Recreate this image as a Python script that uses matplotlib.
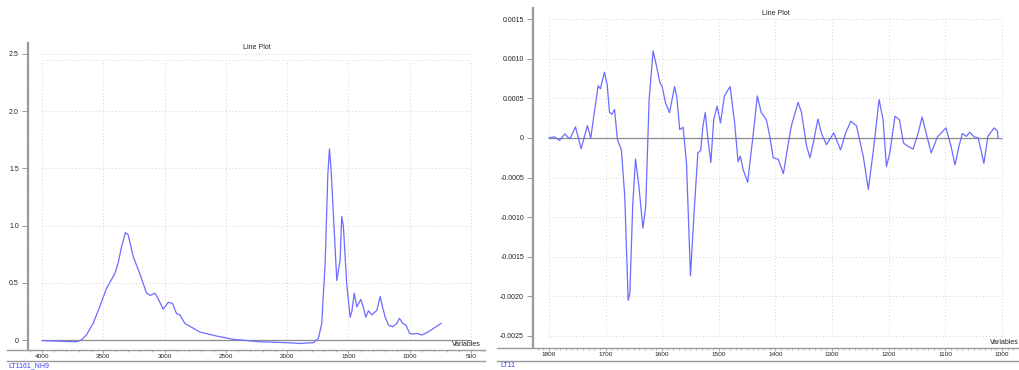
import matplotlib
matplotlib.use('Agg')
import matplotlib.pyplot as plt
from matplotlib.lines import Line2D
from matplotlib.ticker import MultipleLocator, FixedLocator, FixedFormatter

plt.rcParams['font.family'] = ['Liberation Sans', 'DejaVu Sans']

# raw absorbance spectrum
abs_wavenumber = [4000, 3720, 3679, 3638, 3583, 3529, 3474, 3406, 3379, 3352,
                  3319, 3297, 3256, 3202, 3147, 3115, 3079, 3052, 3011, 2970,
                  2935, 2902, 2875, 2834, 2712, 2576, 2439, 2221, 2004, 1895,
                  1786, 1745, 1718, 1690, 1668, 1655, 1641, 1622, 1595, 1568,
                  1555, 1541, 1514, 1486, 1472, 1453, 1432, 1399, 1377, 1358,
                  1337, 1309, 1268, 1241, 1222, 1200, 1173, 1138, 1106, 1084,
                  1056, 1030, 1001, 982, 941, 901, 846, 745]
abs_value = [-0.005, -0.015, 0.0, 0.044, 0.145, 0.29, 0.45, 0.58, 0.67, 0.81,
             0.94, 0.92, 0.73, 0.58, 0.41, 0.39, 0.41, 0.36, 0.27, 0.33,
             0.32, 0.23, 0.22, 0.145, 0.07, 0.035, 0.006, -0.015, -0.023, -0.03,
             -0.023, 0.015, 0.145, 0.67, 1.45, 1.67, 1.48, 1.08, 0.52, 0.70,
             1.08, 0.99, 0.49, 0.20, 0.25, 0.41, 0.29, 0.355, 0.28, 0.20,
             0.256, 0.22, 0.26, 0.38, 0.29, 0.20, 0.13, 0.116, 0.145, 0.19,
             0.145, 0.13, 0.058, 0.052, 0.058, 0.044, 0.073, 0.145]

# derivative spectrum, 1800-1000 cm-1 (values in units of 1e-4)
deriv_wavenumber = [1800, 1790, 1781, 1772, 1763, 1753, 1743, 1732, 1726, 1719,
                    1713, 1709, 1702, 1697, 1693, 1689, 1684, 1679, 1672, 1666,
                    1660, 1657, 1652, 1647, 1641, 1634, 1629, 1623, 1616, 1610,
                    1604, 1600, 1594, 1587, 1578, 1574, 1569, 1563, 1557, 1550,
                    1544, 1537, 1532, 1528, 1524, 1519, 1514, 1509, 1503, 1497,
                    1490, 1480, 1472, 1466, 1462, 1457, 1449, 1439, 1432, 1425,
                    1416, 1410, 1404, 1395, 1386, 1381, 1372, 1360, 1354, 1345,
                    1339, 1332, 1325, 1319, 1310, 1297, 1285, 1276, 1267, 1257,
                    1245, 1236, 1227, 1217, 1210, 1204, 1198, 1189, 1181, 1174,
                    1166, 1157, 1148, 1141, 1134, 1125, 1114, 1099, 1090, 1083,
                    1076, 1070, 1063, 1057, 1049, 1042, 1032, 1025, 1014, 1008,
                    1007]
deriv_value = [0.0, 0.13, -0.3, 0.5, -0.13, 1.4, -1.35, 1.56, 0.0, 3.6,
               6.6, 6.2, 8.3, 6.75, 3.25, 3.0, 3.6, -0.2, -1.5, -7.4,
               -20.5, -19.6, -8.6, -2.65, -6.1, -11.4, -8.6, 4.85, 11.0, 9.1,
               7.0, 6.5, 4.4, 3.2, 6.5, 5.1, 1.05, 1.35, -3.2, -17.4,
               -9.9, -1.9, -1.56, 1.48, 3.2, -0.2, -3.1, 2.3, 4.0, 1.9,
               5.3, 6.5, 1.9, -3.0, -2.3, -4.0, -5.6, 0.63, 5.3, 3.2,
               2.3, 0.2, -2.5, -2.7, -4.5, -2.3, 1.5, 4.5, 3.2, -1.05,
               -2.5, -0.2, 2.4, 0.63, -0.84, 0.63, -1.5, 0.63, 2.1, 1.56,
               -2.3, -6.5, -1.5, 4.85, 2.3, -3.6, -1.9, 2.75, 2.3, -0.63,
               -1.05, -1.4, 0.63, 2.65, 0.63, -1.9, 0.13, 1.27, -1.05, -3.4,
               -1.05, 0.55, 0.2, 0.72, 0.13, 0.0, -3.2, 0.2, 1.27, 0.84,
               0.0]

abs_xticks = [4000, 3500, 3000, 2500, 2000, 1500, 1000, 500]
abs_yticks = [0, 0.5, 1.0, 1.5, 2.0, 2.5]
abs_yticklabels = ['0', '0.5', '1.0', '1.5', '2.0', '2.5']
deriv_xticks = [1800, 1700, 1600, 1500, 1400, 1300, 1200, 1100, 1000]
deriv_yticks = [-0.0025, -0.0020, -0.0015, -0.0010, -0.0005, 0, 0.0005, 0.0010, 0.0015]
deriv_yticklabels = ['-0.0025', '-0.0020', '-0.0015', '-0.0010', '-0.0005', '0',
                     '0.0005', '0.0010', '0.0015']
sample_names = ['LT1161_NH9', 'LT11']

W, H = 1019, 370
LINE_C = '#6c6cff'
AXIS_C = '#9a9a9a'
GRID_C = '#c4c4c4'


def fx(x):
    return x / W


def fy(y):
    return 1 - y / H


def style_panel(ax, xticks, xminor, yticks, ylabels, yminor, grid_top):
    for s in ['top', 'right', 'bottom']:
        ax.spines[s].set_visible(False)
    ax.spines['left'].set_color(AXIS_C)
    ax.spines['left'].set_linewidth(1.6)
    ax.xaxis.set_major_locator(FixedLocator(xticks))
    ax.xaxis.set_major_formatter(FixedFormatter([str(t) for t in xticks]))
    ax.xaxis.set_minor_locator(MultipleLocator(xminor))
    ax.yaxis.set_major_locator(FixedLocator(yticks))
    ax.yaxis.set_major_formatter(FixedFormatter(ylabels))
    ax.yaxis.set_minor_locator(MultipleLocator(yminor))
    ax.tick_params(axis='x', which='major', length=2, width=0.6, color=AXIS_C,
                   labelsize=4.6, pad=1.2, labelcolor='#222222')
    ax.tick_params(axis='x', which='minor', length=1.5, width=0.5, color=AXIS_C)
    ax.tick_params(axis='y', which='major', length=4.5, width=0.7, color=AXIS_C,
                   labelsize=5, pad=2, labelcolor='#222222')
    ax.tick_params(axis='y', which='minor', length=1.8, width=0.5, color=AXIS_C)
    # dotted grid limited to the plotting range
    ax.vlines(xticks, yticks[0] if yticks[0] < 0 else 0, grid_top, colors=GRID_C,
              linestyles=(0, (1, 3)), linewidth=0.6, zorder=0)
    ax.hlines([t for t in yticks if t != 0], xticks[0], xticks[-1], colors=GRID_C,
              linestyles=(0, (1, 3)), linewidth=0.6, zorder=0)
    ax.hlines(0, xticks[0], xticks[-1], colors='#8c8c8c', linewidth=0.9, zorder=1)
    ax.text(0.5, 0.985 if grid_top > 1 else 0.983, 'Line Plot', transform=ax.transAxes,
            ha='center', va='center', fontsize=5, color='#222222')


fig = plt.figure(figsize=(W / 100, H / 100), dpi=100)

# left: absorbance
ax1 = fig.add_axes([fx(28), fy(350), fx(485 - 28), (350 - 43) / H])
ax1.plot(abs_wavenumber, abs_value, color=LINE_C, linewidth=0.9, zorder=3)
ax1.set_xlim(4114, 386)
ax1.set_ylim(-0.087, 2.596)
style_panel(ax1, abs_xticks, 100, abs_yticks, abs_yticklabels, 0.1, 2.45)
ax1.hlines(2.45, 4000, 500, colors=GRID_C, linestyles=(0, (1, 3)), linewidth=0.6, zorder=0)

# right: derivative
ax2 = fig.add_axes([fx(533), fy(348), fx(1019 - 533), (348 - 8) / H])
ax2.plot(deriv_wavenumber, [v * 1e-4 for v in deriv_value], color=LINE_C,
         linewidth=0.9, zorder=3)
ax2.set_xlim(1828, 970)
ax2.set_ylim(-0.002652, 0.001641)
style_panel(ax2, deriv_xticks, 10, deriv_yticks, deriv_yticklabels, 0.0001, 0.0015)

# ruler lines below each panel
for x0, x1, y0 in [(7, 485, 350), (497, 1019, 348)]:
    fig.add_artist(Line2D([fx(x0), fx(x1)], [fy(y0), fy(y0)], color=AXIS_C, linewidth=1.0))
    fig.add_artist(Line2D([fx(x0), fx(x1)], [fy(360.5), fy(360.5)], color=AXIS_C, linewidth=1.0))

fig.text(fx(481), fy(345), 'Variables', ha='right', va='center', fontsize=5, color='#222222')
fig.text(fx(1019), fy(342), 'Variables', ha='right', va='center', fontsize=5, color='#222222')
fig.text(fx(8), fy(365.5), sample_names[0], ha='left', va='center', fontsize=5, color='#3c3cff')
fig.text(fx(500), fy(365.5), sample_names[1], ha='left', va='center', fontsize=5, color='#3c3cff')

fig.savefig('out.png', dpi=100)
